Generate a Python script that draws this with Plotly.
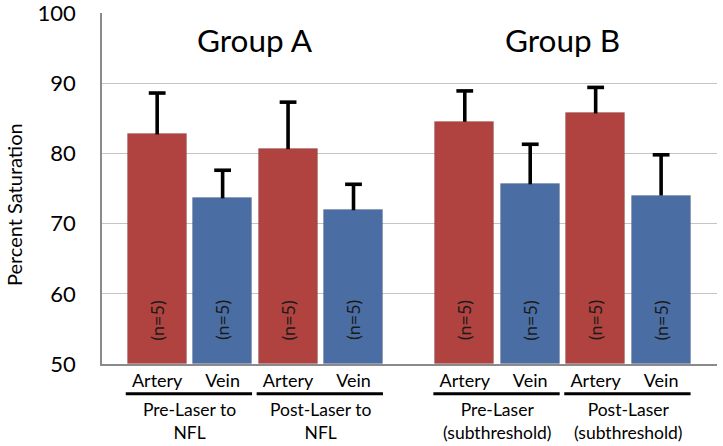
import plotly.graph_objects as go

# ---- data ----
vessels = ["Artery", "Vein", "Artery", "Vein", "Artery", "Vein", "Artery", "Vein"]
positions = [0, 1, 2, 3, 4.7, 5.7, 6.7, 7.7]
means = [82.7, 73.6, 80.6, 71.9, 84.5, 75.6, 85.7, 74.0]
err_plus = [5.9, 4.0, 6.7, 3.7, 4.4, 5.7, 3.7, 5.8]
n_labels = ["(n=5)"] * 8
pair_labels = ["Pre-Laser to<br>NFL", "Post-Laser to<br>NFL",
               "Pre-Laser<br>(subthreshold)", "Post-Laser<br>(subthreshold)"]
group_titles = ["Group A", "Group B"]

RED = "#b0433f"
BLUE = "#4a6ea4"
colors = [RED if v == "Artery" else BLUE for v in vessels]
FONT = "Lato"
bar_w = 0.9

fig = go.Figure()
fig.add_trace(go.Bar(
    x=positions, y=[m - 50 for m in means], base=50, width=bar_w,
    marker=dict(color=colors, line=dict(width=1, color="rgba(0,0,0,0.12)")),
    showlegend=False, hoverinfo="skip",
))

# upper-only error bars: stems + caps
stem_x, stem_y = [], []
tops = [m + e for m, e in zip(means, err_plus)]
for p, m, t in zip(positions, means, tops):
    stem_x += [p, p, None]
    stem_y += [m, t, None]
fig.add_trace(go.Scatter(x=stem_x, y=stem_y, mode="lines",
                         line=dict(color="black", width=3.6),
                         showlegend=False, hoverinfo="skip"))
fig.add_trace(go.Scatter(x=positions, y=tops, mode="markers",
                         marker=dict(symbol="line-ew", size=12,
                                     line=dict(color="black", width=3.6)),
                         showlegend=False, hoverinfo="skip"))

# (n=5) labels inside bars
for x, t in zip(positions, n_labels):
    fig.add_annotation(x=x, y=56.2, text=t, textangle=-90, showarrow=False,
                       font=dict(family=FONT, size=18, color="#1a1a1a"))

# group titles
for i, g in enumerate(group_titles):
    gx = sum(positions[i * 4:(i + 1) * 4]) / 4
    fig.add_annotation(x=gx, y=96.2, text=g, showarrow=False,
                       font=dict(family=FONT, size=31.5, color="black"))

# pair underline + labels
for i, lab in enumerate(pair_labels):
    x0 = positions[2 * i] - bar_w / 2 - 0.03
    x1 = positions[2 * i + 1] + bar_w / 2
    fig.add_shape(type="line", xref="x", yref="paper", x0=x0, x1=x1,
                  y0=-0.0846, y1=-0.0846, line=dict(color="black", width=3))
    fig.add_annotation(x=(positions[2 * i] + positions[2 * i + 1]) / 2,
                       xref="x", yref="paper", y=-0.093, yanchor="top",
                       xanchor="center",
                       text=lab, showarrow=False,
                       font=dict(family=FONT, size=17.5, color="black"))

# y axis title
fig.add_annotation(text="Percent Saturation", xref="paper", yref="paper",
                   x=-0.144, y=0.454, xanchor="center", yanchor="middle",
                   textangle=-90, showarrow=False,
                   font=dict(family=FONT, size=20, color="black"))

fig.update_layout(
    width=723, height=446,
    margin=dict(l=101.5, r=6, t=13.3, b=81.7, autoexpand=False),
    paper_bgcolor="white", plot_bgcolor="white",
    bargap=0,
    xaxis=dict(range=[-0.843, 8.554], tickmode="array", tickvals=positions,
               ticktext=vessels, showgrid=False, zeroline=False,
               showline=True, linecolor="#8a8a8a", linewidth=1.5,
               ticks="", ticklabelstandoff=0, automargin=False,
               tickfont=dict(family=FONT, size=18, color="black")),
    yaxis=dict(range=[50, 100], tickvals=[50, 60, 70, 80, 90, 100],
               showgrid=True, gridcolor="#c4c4c4", gridwidth=1,
               zeroline=False, showline=True, linecolor="#8a8a8a",
               linewidth=1.5, ticks="", ticklabelstandoff=20,
               automargin=False, ticklabeloverflow="allow",
               tickfont=dict(family=FONT, size=22, color="black")),
)

fig.write_html("out.html", config={"displayModeBar": False},
               post_script="document.body.style.margin='0';")
